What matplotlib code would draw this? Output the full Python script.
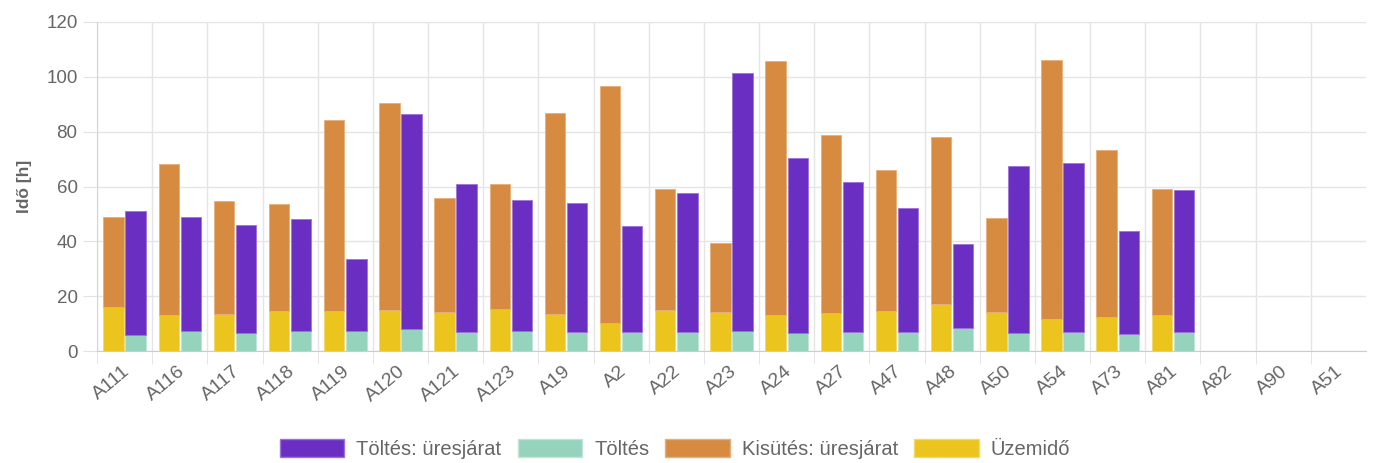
import numpy as np
import matplotlib
matplotlib.use('Agg')
import matplotlib.pyplot as plt
from matplotlib.patches import Patch

plt.rcParams['font.family'] = ['Liberation Sans', 'DejaVu Sans']

# data
categories = ['A111', 'A116', 'A117', 'A118', 'A119', 'A120', 'A121', 'A123', 'A19', 'A2',
              'A22', 'A23', 'A24', 'A27', 'A47', 'A48', 'A50', 'A54', 'A73', 'A81',
              'A82', 'A90', 'A51']
uzemido = [16.0, 13.0, 13.4, 14.5, 14.5, 14.8, 14.3, 15.4, 13.5, 10.1,
           15.0, 14.2, 13.1, 14.0, 14.5, 17.3, 14.2, 11.8, 12.5, 13.0, 0, 0, 0]
kisutes_ures = [32.9, 55.3, 41.4, 39.0, 69.9, 75.5, 41.5, 45.4, 73.2, 86.5,
                44.2, 25.3, 92.8, 64.7, 51.4, 60.9, 34.4, 94.5, 60.9, 46.2, 0, 0, 0]
toltes = [5.7, 7.4, 6.4, 7.3, 7.4, 8.1, 6.8, 7.4, 6.8, 6.8,
          6.8, 7.4, 6.4, 6.8, 6.9, 8.4, 6.4, 6.8, 6.3, 6.8, 0, 0, 0]
toltes_ures = [45.5, 41.6, 39.4, 40.8, 26.3, 78.4, 54.0, 47.7, 47.1, 38.8,
               50.8, 94.1, 63.9, 55.0, 45.3, 30.7, 61.1, 61.9, 37.3, 51.8, 0, 0, 0]

c_purple = '#6a2ec2'
c_teal = '#95d3bc'
c_orange = '#d78b40'
c_yellow = '#ebc51e'
txt = '#666666'

fig = plt.figure(figsize=(13.75, 4.63), dpi=100)
ax = fig.add_axes([97/1375, 1-351/463, 1269/1375, 329/463])

x = np.arange(len(categories))
w = 0.37
off = 0.2

ax.bar(x - off, uzemido, w, color=c_yellow, edgecolor='#f2d96b', linewidth=0.6, zorder=3)
ax.bar(x - off, kisutes_ures, w, bottom=uzemido, color=c_orange, edgecolor='#e6b07a', linewidth=0.6, zorder=3)
ax.bar(x + off, toltes, w, color=c_teal, edgecolor='#bfe5d7', linewidth=0.6, zorder=3)
ax.bar(x + off, toltes_ures, w, bottom=toltes, color=c_purple, edgecolor='#9b73d8', linewidth=0.6, zorder=3)

ax.set_xlim(-0.5, len(categories) - 0.5)
ax.set_ylim(0, 120)
ax.set_yticks(range(0, 121, 20))

ax.set_xticks(x + 0.05)
ax.set_xticklabels(categories, rotation=40, ha='right', rotation_mode='anchor', va='center')
ax.set_xticks(np.arange(len(categories)) - 0.5, minor=True)
ax.tick_params(axis='x', which='major', length=0, pad=13, labelsize=14, labelcolor=txt)
ax.tick_params(axis='x', which='minor', length=9, color='#e2e2e2')
ax.tick_params(axis='y', length=10, color='#e2e2e2', pad=4, labelsize=13.5, labelcolor=txt)

ax.grid(axis='y', color='#e5e5e5', linewidth=1, zorder=0)
ax.grid(axis='x', which='minor', color='#e5e5e5', linewidth=1, zorder=0)
ax.set_axisbelow(True)

for s in ['top', 'right']:
    ax.spines[s].set_visible(False)
ax.spines['left'].set_color('#d5d5d5')
ax.spines['bottom'].set_color('#cccccc')

ax.set_ylabel('Idő [h]', fontsize=12.5, fontweight='bold', color=txt, labelpad=10)

handles = [Patch(facecolor=c_purple, edgecolor='#9b73d8'),
           Patch(facecolor=c_teal, edgecolor='#bfe5d7'),
           Patch(facecolor=c_orange, edgecolor='#e6b07a'),
           Patch(facecolor=c_yellow, edgecolor='#f2d96b')]
labels = ['Töltés: üresjárat', 'Töltés', 'Kisütés: üresjárat', 'Üzemidő']
leg = fig.legend(handles, labels, loc='center', bbox_to_anchor=(0.491, 1-449/463), ncol=4,
                 frameon=False, fontsize=14.5, handlelength=3.2, handleheight=0.95,
                 handletextpad=0.6, columnspacing=0.8, labelcolor=txt)

fig.savefig('out.png', dpi=100)
